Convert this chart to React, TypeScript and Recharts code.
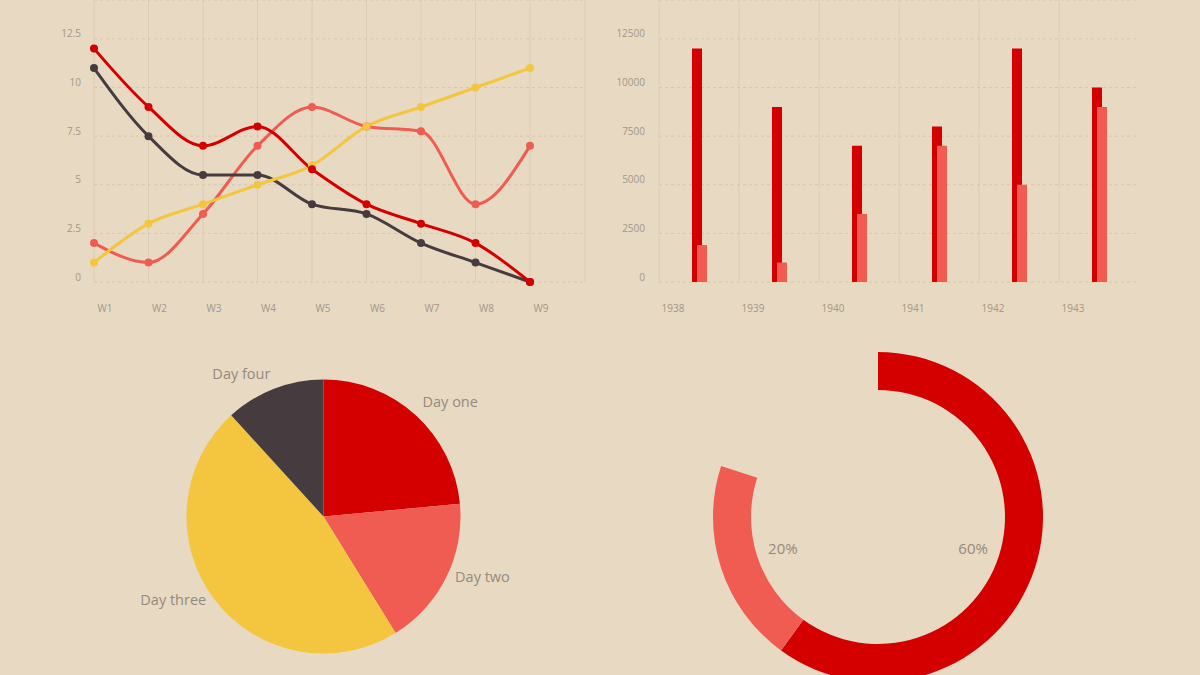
import React from 'react';
import { LineChart, Line, XAxis, YAxis, CartesianGrid, BarChart, Bar, PieChart, Pie, Cell } from 'recharts';

const weeks = ['W1', 'W2', 'W3', 'W4', 'W5', 'W6', 'W7', 'W8', 'W9'];
const seriesRed = [12, 9, 7, 8, 5.8, 4, 3, 2, 0];
const seriesDark = [11, 7.5, 5.5, 5.5, 4, 3.5, 2, 1, 0];
const seriesCoral = [2, 1, 3.5, 7, 9, 8, 7.75, 4, 7];
const seriesYellow = [1, 3, 4, 5, 6, 8, 9, 10, 11];
const lineTicks = [0, 2.5, 5, 7.5, 10, 12.5];

const years = ['1938', '1939', '1940', '1941', '1942', '1943'];
const barsMain = [12000, 9000, 7000, 8000, 12000, 10000];
const barsSecond = [1900, 1000, 3500, 7000, 5000, 9000];
const barTicks = [0, 2500, 5000, 7500, 10000, 12500];

const pieNames = ['Day one', 'Day two', 'Day three', 'Day four'];
const pieValues = [20, 15, 40, 10];

const donutNames = ['First', 'Second', 'Rest'];
const donutValues = [60, 20, 20];

const BG = '#e8d9c2';
const RED = '#d40000';
const CORAL = '#f05c51';
const YELLOW = '#f4c53e';
const DARK = '#463c3f';
const GRID = '#d6c6ad';
const TICK = '#a2978a';
const LABEL = '#948a7f';

const lineData = weeks.map((w, i) => ({
  week: w,
  red: seriesRed[i],
  dark: seriesDark[i],
  coral: seriesCoral[i],
  yellow: seriesYellow[i],
}));

const barData = years.map((y, i) => ({ year: y, a: barsMain[i], b: barsSecond[i] }));
const pieData = pieNames.map((n, i) => ({ name: n, value: pieValues[i] }));
const donutData = donutNames.map((n, i) => ({ name: n, value: donutValues[i] }));
const pieColors = [RED, CORAL, YELLOW, DARK];
const donutColors = [RED, CORAL, 'transparent'];

const RADIAN = Math.PI / 180;

const renderPieLabel = (p: any) => {
  const r = p.outerRadius + 10;
  const x = p.cx + r * Math.cos(-p.midAngle * RADIAN);
  const y = p.cy + r * Math.sin(-p.midAngle * RADIAN);
  return (
    <text
      x={x}
      y={y}
      dy={-6}
      fill={LABEL}
      fontSize={14.5}
      textAnchor={x >= p.cx ? 'start' : 'end'}
      dominantBaseline="central"
    >
      {p.name}
    </text>
  );
};

const renderDonutLabel = (p: any) => {
  if (p.index === 2) return null;
  const r = 100;
  const x = p.cx + r * Math.cos(-p.midAngle * RADIAN);
  const y = p.cy + r * Math.sin(-p.midAngle * RADIAN);
  return (
    <text x={x} y={y} fill={LABEL} fontSize={15} textAnchor="middle" dominantBaseline="central">
      {`${Math.round(p.percent * 100)}%`}
    </text>
  );
};

const lineProps = (key: string, color: string) => ({
  type: 'monotone' as const,
  dataKey: key,
  stroke: color,
  strokeWidth: 3,
  dot: { r: 4, fill: color, stroke: color, strokeWidth: 0 },
  activeDot: false as const,
  isAnimationActive: false,
});

export default function App() {
  return (
    <div
      style={{
        position: 'fixed',
        left: 0,
        top: 0,
        width: 1200,
        height: 675,
        background: BG,
        fontFamily: '"Open Sans", sans-serif',
        overflow: 'hidden',
      }}
    >
      <div style={{ position: 'absolute', left: 0, top: 0 }}>
        <LineChart width={600} height={330} data={lineData} margin={{ top: 0, right: 15, left: 0, bottom: 0 }}>
          <CartesianGrid horizontal={false} stroke={GRID} strokeOpacity={0.6} />
          <CartesianGrid vertical={false} stroke={GRID} strokeDasharray="3 3" />
          <XAxis
            dataKey="week"
            axisLine={false}
            tickLine={false}
            height={48}
            tickMargin={17}
            padding={{ left: 0, right: 55 }}
            tick={{ fill: TICK, fontSize: 10, dx: 11 }}
          />
          <YAxis
            width={94}
            domain={[0, 14.5]}
            ticks={lineTicks}
            axisLine={false}
            tickLine={false}
            tickMargin={7}
            tick={{ fill: TICK, fontSize: 10, dy: -5 }}
          />
          <Line {...lineProps('coral', CORAL)} />
          <Line {...lineProps('dark', DARK)} />
          <Line {...lineProps('yellow', YELLOW)} />
          <Line {...lineProps('red', RED)} />
        </LineChart>
      </div>

      <div style={{ position: 'absolute', left: 600, top: 0 }}>
        <BarChart
          width={560}
          height={330}
          data={barData}
          margin={{ top: 0, right: 21, left: 0, bottom: 0 }}
          barSize={10}
          barGap={-5}
        >
          <CartesianGrid
            horizontal={false}
            stroke={GRID}
            strokeOpacity={0.6}
            verticalCoordinatesGenerator={(props: any) =>
              years.map((_, i) => props.offset.left + (i * props.offset.width) / years.length)
            }
          />
          <CartesianGrid vertical={false} stroke={GRID} strokeDasharray="3 3" />
          <XAxis
            dataKey="year"
            axisLine={false}
            tickLine={false}
            height={48}
            tickMargin={17}
            tick={{ fill: TICK, fontSize: 10, dx: -26 }}
          />
          <YAxis
            width={59}
            domain={[0, 14500]}
            ticks={barTicks}
            axisLine={false}
            tickLine={false}
            tickMargin={8}
            tick={{ fill: TICK, fontSize: 10, dy: -5 }}
          />
          <Bar dataKey="a" fill={RED} isAnimationActive={false} />
          <Bar dataKey="b" fill={CORAL} isAnimationActive={false} />
        </BarChart>
      </div>

      <div style={{ position: 'absolute', left: 0, top: 340 }}>
        <PieChart width={600} height={335}>
          <Pie
            data={pieData}
            dataKey="value"
            nameKey="name"
            cx={318.5}
            cy={171.5}
            outerRadius={137}
            startAngle={90}
            endAngle={-270}
            stroke="none"
            label={renderPieLabel}
            labelLine={false}
            isAnimationActive={false}
          >
            {pieData.map((d, i) => (
              <Cell key={d.name} fill={pieColors[i]} />
            ))}
          </Pie>
        </PieChart>
      </div>

      <div style={{ position: 'absolute', left: 600, top: 340 }}>
        <PieChart width={600} height={335}>
          <Pie
            data={donutData}
            dataKey="value"
            nameKey="name"
            cx={273}
            cy={172}
            innerRadius={127}
            outerRadius={165}
            startAngle={90}
            endAngle={-270}
            stroke="none"
            label={renderDonutLabel}
            labelLine={false}
            isAnimationActive={false}
          >
            {donutData.map((d, i) => (
              <Cell key={d.name} fill={donutColors[i]} />
            ))}
          </Pie>
        </PieChart>
      </div>
    </div>
  );
}
